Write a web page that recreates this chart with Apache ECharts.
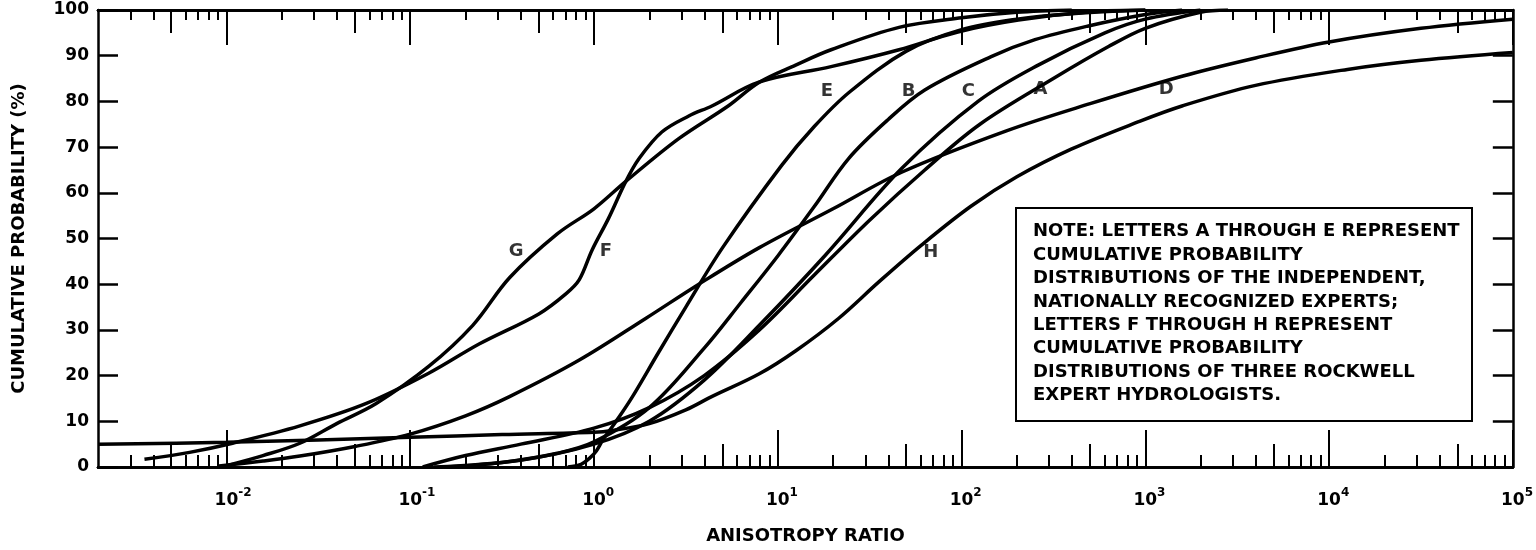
<!DOCTYPE html>
<html><head><meta charset="utf-8">
<script src="https://cdn.jsdelivr.net/npm/echarts@6/dist/echarts.min.js"></script>
<style>html,body{margin:0;padding:0;background:#fff}#c{width:1536px;height:550px}</style>
</head><body><div id="c"></div>
<script>
// ---- data (anisotropy ratio, cumulative probability %) ----
const A_x = [0.117, 0.2, 0.4, 1, 2.0, 3.98, 7.94, 15.8, 31.6, 63.1, 126, 316, 631, 1000, 1995, 2818];
const A_y = [0, 2.5, 5, 8.5, 13, 20, 30, 42, 54, 65, 75, 85, 92, 96, 99.5, 100];
const B_x = [0.158, 0.316, 0.631, 1, 2.0, 3.98, 6.31, 10.1, 15.8, 24.3, 39.8, 63.1, 145, 251, 490, 1000, 1585];
const B_y = [0, 1.0, 3, 5.5, 13, 26, 36, 46.4, 57, 67.5, 76, 82.5, 89.8, 93.5, 96.5, 99, 100];
const C_x = [0.135, 0.398, 1, 2.0, 3.98, 7.94, 18.2, 47.2, 123, 263, 603, 1000, 1995];
const C_y = [0, 1.5, 5, 10, 19, 31, 46.4, 65.3, 80, 88, 95, 98, 100];
const D_x = [0.00912, 0.0158, 0.0251, 0.0501, 0.1, 0.2, 0.347, 0.832, 1.91, 3.72, 7.94, 20, 47.2, 174, 501, 1585, 3981, 10000, 31623, 100000];
const D_y = [0.2, 1.3, 2.4, 4.5, 7.2, 11.2, 15.4, 23.4, 32.5, 40, 48, 56.5, 64.5, 73.5, 79.5, 85.5, 89.5, 93.0, 96.0, 98.0];
const E_x = [0.72, 0.85, 0.95, 1.03, 1.12, 1.32, 1.62, 2.24, 3.16, 5.01, 10.5, 15.8, 24.5, 50.1, 100, 200, 398, 1000];
const E_y = [0, 0.6, 2, 3.5, 6, 10, 15.4, 25, 35, 48, 66, 74.5, 82, 91, 95.7, 98, 99.2, 100];
const F_x = [0.00358, 0.0063, 0.0108, 0.0251, 0.0577, 0.126, 0.237, 0.501, 0.708, 0.832, 0.977, 1.2, 1.49, 1.76, 2.34, 3.28, 4.38, 7.89, 19.5, 45.7, 95.5, 204, 501, 1000];
const F_y = [1.7, 3.2, 5.2, 9.0, 13.9, 20.5, 26.9, 33.5, 38, 41, 47.5, 54.4, 62.5, 67.5, 73.3, 76.8, 79, 84.2, 87.6, 91.3, 95.2, 97.8, 99.6, 100];
const G_x = [0.01, 0.0158, 0.0251, 0.0398, 0.0653, 0.126, 0.219, 0.347, 0.631, 1, 1.49, 2.88, 5.37, 7.94, 12.6, 19.5, 45.7, 100, 200, 398];
const G_y = [0.3, 2.5, 5.2, 9.5, 13.9, 22, 31, 41.4, 51, 56.5, 62.5, 71.8, 79, 84.2, 88, 91.3, 96.2, 98.3, 99.5, 100];
const H_x = [0.002, 0.01, 0.1, 0.316, 1, 1.26, 2.0, 3.16, 4.37, 7.94, 12.6, 21.4, 35.5, 60.3, 112, 200, 398, 912, 1585, 3981, 12589, 31623, 100000];
const H_y = [5.0, 5.4, 6.5, 7.1, 7.6, 8.0, 9.5, 12.5, 15.4, 20.4, 25.5, 32.5, 40.5, 48.5, 57, 63.5, 69.6, 75.5, 79, 83.5, 87, 89, 90.7];

const curveNames = ['A', 'B', 'C', 'D', 'E', 'F', 'G', 'H'];
const curveX = [A_x, B_x, C_x, D_x, E_x, F_x, G_x, H_x];
const curveY = [A_y, B_y, C_y, D_y, E_y, F_y, G_y, H_y];

// curve letter positions (data space)
const letterNames = ['E', 'B', 'C', 'A', 'D', 'G', 'F', 'H'];
const letterX = [18.5, 51.5, 109, 269, 1300, 0.377, 1.16, 68];
const letterY = [82.2, 82.2, 82.2, 82.6, 82.6, 47.1, 47.1, 46.9];

// axis ticks
const xMin = 0.002, xMax = 100000;
const decadeTicks = [0.01, 0.1, 1, 10, 100, 1000, 10000, 100000];
const decadeExps = [-2, -1, 0, 1, 2, 3, 4, 5];
const halfTicks = [0.005, 0.05, 0.5, 5, 50, 500, 5000, 50000];
const minorMult = [2, 3, 4, 6, 7, 8, 9];
const minorBases = [0.001, 0.01, 0.1, 1, 10, 100, 1000, 10000];
const yTicks = [0, 10, 20, 30, 40, 50, 60, 70, 80, 90, 100];

const noteLines = [
  'NOTE: LETTERS A THROUGH E REPRESENT',
  'CUMULATIVE PROBABILITY',
  'DISTRIBUTIONS OF THE INDEPENDENT,',
  'NATIONALLY RECOGNIZED EXPERTS;',
  'LETTERS F THROUGH H REPRESENT',
  'CUMULATIVE PROBABILITY',
  'DISTRIBUTIONS OF THREE ROCKWELL',
  'EXPERT HYDROLOGISTS.'
];

// ---- build ----
const minorTicks = [];
minorBases.forEach(b => minorMult.forEach(m => {
  const v = +(b * m).toPrecision(6);
  if (v > xMin && v < xMax) minorTicks.push(v);
}));

const FONT = 'DejaVu Sans';
const INK = '#000';

function xAxisDef(pos, vals, len, withLabels) {
  const ax = {
    type: 'log', logBase: 10, min: xMin, max: xMax, position: pos, gridIndex: 0,
    axisLine: { show: true, lineStyle: { color: INK, width: 2.5 } },
    axisTick: { show: true, inside: true, length: len, customValues: vals, lineStyle: { color: INK, width: 2 } },
    axisLabel: { show: false },
    splitLine: { show: false }, minorTick: { show: false }, minorSplitLine: { show: false }
  };
  if (withLabels) {
    ax.axisLabel = {
      show: true, customValues: decadeTicks, margin: 20,
      formatter: function (v) {
        const e = decadeExps[decadeTicks.findIndex(t => Math.abs(Math.log10(t) - Math.log10(v)) < 1e-6)];
        return '{sp|' + e + '}{b|10}{sup|' + e + '}';
      },
      rich: {
        b: { fontFamily: FONT, fontWeight: 'bold', fontSize: 17, color: INK, lineHeight: 22, verticalAlign: 'bottom' },
        sup: { fontFamily: FONT, fontWeight: 'bold', fontSize: 12, color: INK, lineHeight: 12, verticalAlign: 'top' },
        sp: { fontFamily: FONT, fontWeight: 'bold', fontSize: 12, color: 'rgba(0,0,0,0)', lineHeight: 12, verticalAlign: 'top' }
      }
    };
    ax.name = 'ANISOTROPY RATIO';
    ax.nameLocation = 'middle';
    ax.nameGap = 60;
    ax.nameTextStyle = { fontFamily: FONT, fontWeight: 'bold', fontSize: 18, color: INK };
  }
  return ax;
}

const xAxes = [
  xAxisDef('bottom', decadeTicks, 37, true),
  xAxisDef('bottom', halfTicks, 23, false),
  xAxisDef('bottom', minorTicks, 12, false),
  xAxisDef('top', decadeTicks, 35, false),
  xAxisDef('top', halfTicks, 23, false),
  xAxisDef('top', minorTicks, 10, false)
];

const series = curveNames.map((n, i) => ({
  name: n, type: 'line', xAxisIndex: 0, yAxisIndex: 0,
  data: curveX[i].map((x, j) => [x, curveY[i][j]]),
  showSymbol: false, symbol: 'none', smooth: 0.35,
  lineStyle: { color: INK, width: 3.5 }, z: 3, silent: true
}));
series.push({
  type: 'scatter', xAxisIndex: 0, yAxisIndex: 0, symbolSize: 0, silent: true,
  data: letterNames.map((n, i) => ({ name: n, value: [letterX[i], letterY[i]] })),
  label: { show: true, position: 'inside', formatter: '{b}', fontFamily: FONT, fontWeight: 'bold', fontSize: 18, color: '#000', textBorderWidth: 0 },
  z: 5
});

const chart = echarts.init(document.getElementById('c'), null, { renderer: 'canvas' });
chart.setOption({
  animation: false,
  backgroundColor: '#fff',
  grid: { left: 98, right: 21, top: 10, bottom: 79, containLabel: false },
  xAxis: xAxes,
  yAxis: [
    {
      type: 'value', min: 0, max: 100, interval: 10, position: 'left',
      axisLine: { show: true, lineStyle: { color: INK, width: 2.5 } },
      axisTick: { show: true, inside: true, length: 20, lineStyle: { color: INK, width: 2.5 } },
      axisLabel: { fontFamily: FONT, fontWeight: 'bold', fontSize: 17, color: INK, margin: 9,
        customValues: yTicks },
      splitLine: { show: false },
      name: 'CUMULATIVE PROBABILITY (%)', nameLocation: 'middle', nameGap: 70,
      nameTextStyle: { fontFamily: FONT, fontWeight: 'bold', fontSize: 18, color: INK }
    },
    {
      type: 'value', min: 0, max: 100, interval: 10, position: 'right',
      axisLine: { show: true, lineStyle: { color: INK, width: 2.5 } },
      axisTick: { show: true, inside: true, length: 20, lineStyle: { color: INK, width: 2.5 } },
      axisLabel: { show: false }, splitLine: { show: false }
    }
  ],
  graphic: [{
    type: 'group', left: 1015, top: 207,
    children: [
      { type: 'rect', shape: { x: 0, y: 0, width: 456, height: 213 },
        style: { fill: '#fff', stroke: INK, lineWidth: 2 }, z: 10 },
      { type: 'text', x: 17, y: 12, z: 11,
        style: { text: noteLines.join('\n'), fill: INK, font: 'bold 18px "DejaVu Sans"', lineHeight: 23.4 } }
    ]
  }],
  series: series
});
</script>
</body></html>
